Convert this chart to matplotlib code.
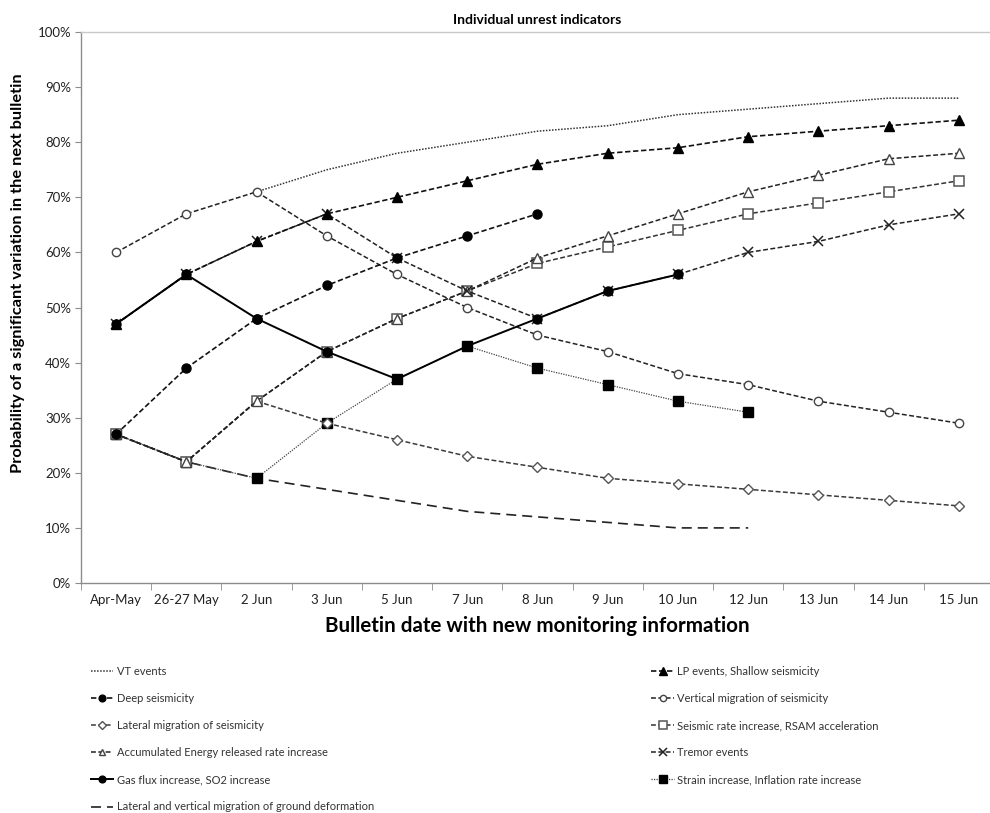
#!/usr/bin/python
# -*- coding: utf-8 -*-

import numpy as np
import matplotlib
matplotlib.use('Agg')
import matplotlib.pyplot as plt
from matplotlib.ticker import FixedLocator, PercentFormatter

###############################################################################
# Data (percent)
###############################################################################
nan = np.nan
dates = ['Apr-May', '26-27 May', '2 Jun', '3 Jun', '5 Jun', '7 Jun', '8 Jun',
         '9 Jun', '10 Jun', '12 Jun', '13 Jun', '14 Jun', '15 Jun']

vt_events = [nan, nan, 71, 75, 78, 80, 82, 83, 85, 86, 87, 88, 88]
lp_events = [47, 56, 62, 67, 70, 73, 76, 78, 79, 81, 82, 83, 84]
deep_seis = [27, 39, 48, 54, 59, 63, 67, nan, nan, nan, nan, nan, nan]
vert_migr = [60, 67, 71, 63, 56, 50, 45, 42, 38, 36, 33, 31, 29]
lat_migr = [27, 22, 33, 29, 26, 23, 21, 19, 18, 17, 16, 15, 14]
seis_rate = [27, 22, 33, 42, 48, 53, 58, 61, 64, 67, 69, 71, 73]
acc_energy = [27, 22, 33, 42, 48, 53, 59, 63, 67, 71, 74, 77, 78]
tremor = [47, 56, 62, 67, 59, 53, 48, 53, 56, 60, 62, 65, 67]
gas_flux = [47, 56, 48, 42, 37, 43, 48, 53, 56, nan, nan, nan, nan]
strain = [27, 22, 19, 29, 37, 43, 39, 36, 33, 31, nan, nan, nan]
ground_def = [27, 22, 19, 17, 15, 13, 12, 11, 10, 10, nan, nan, nan]

labels = {
    'vt': 'VT events',
    'lp': 'LP events, Shallow seismicity',
    'deep': 'Deep seismicity',
    'vert': 'Vertical migration of seismicity',
    'lat': 'Lateral migration of seismicity',
    'rate': 'Seismic rate increase, RSAM acceleration',
    'energy': 'Accumulated Energy released rate increase',
    'tremor': 'Tremor events',
    'gas': 'Gas flux increase, SO2 increase',
    'strain': 'Strain increase, Inflation rate increase',
    'ground': 'Lateral and vertical migration of ground deformation',
}

###############################################################################
# Style
###############################################################################
plt.rcParams['font.family'] = ['Lato', 'DejaVu Sans']
DASH = (0, (3.2, 1.6))
AXC = '#8c8c8c'

fig = plt.figure(figsize=(9.9, 8.13), dpi=100)
ax = fig.add_axes([0.0818, 0.2829, 0.9222, 0.6777])
x = np.arange(len(dates))

series = [
    ('ground', ground_def, dict(color='#222222', ls=(0, (6, 3.6)), lw=1.2,
                                marker='None')),
    ('vt', vt_events, dict(color='#333333', ls=(0, (1, 1)), lw=1.1,
                           marker='None')),
    ('strain', strain, dict(color='#444444', ls=(0, (1, 1)), lw=0.9,
                            marker='s', ms=7, mfc='black', mec='black')),
    ('lat', lat_migr, dict(color='#3a3a3a', ls=DASH, lw=1.1, marker='D',
                           ms=5.5, mfc='white', mec='#555555', mew=1.0)),
    ('vert', vert_migr, dict(color='#222222', ls=DASH, lw=1.1, marker='o',
                             ms=6, mfc='white', mec='#444444', mew=1.0)),
    ('rate', seis_rate, dict(color='#333333', ls=DASH, lw=1.1, marker='s',
                             ms=7.5, mfc='white', mec='#555555', mew=1.1)),
    ('energy', acc_energy, dict(color='#222222', ls=DASH, lw=1.1, marker='^',
                                ms=6.5, mfc='white', mec='#444444', mew=1.0)),
    ('tremor', tremor, dict(color='#222222', ls=DASH, lw=1.1, marker='x',
                            ms=7, mec='#222222', mew=1.1)),
    ('deep', deep_seis, dict(color='#111111', ls=DASH, lw=1.2, marker='o',
                             ms=6.5, mfc='black', mec='black')),
    ('lp', lp_events, dict(color='#111111', ls=DASH, lw=1.2, marker='^',
                           ms=7, mfc='black', mec='black')),
    ('gas', gas_flux, dict(color='black', ls='-', lw=1.4, marker='o',
                           ms=6.5, mfc='black', mec='black')),
]

handles = {}
for (key, vals, kw) in series:
    (line, ) = ax.plot(x, vals, label=labels[key], **kw)
    handles[key] = line

###############################################################################
# Axes
###############################################################################
ax.set_xlim(-0.5, len(dates) - 0.5)
ax.set_ylim(0, 100)
ax.set_xticks(x)
ax.set_xticklabels(dates, fontsize=9.5, color='#222222')
ax.xaxis.set_minor_locator(FixedLocator(np.arange(-0.5, len(dates), 1)))
ax.tick_params(axis='x', which='major', length=0, pad=8)
ax.tick_params(axis='x', which='minor', length=5, color=AXC, direction='out')
ax.set_yticks(np.arange(0, 101, 10))
ax.yaxis.set_major_formatter(PercentFormatter(decimals=0))
ax.tick_params(axis='y', length=4, color=AXC, labelsize=9.5,
               labelcolor='#222222', pad=3)
for sp in ax.spines.values():
    sp.set_color(AXC)
    sp.set_linewidth(1.0)
ax.spines['right'].set_color('#cccccc')
ax.spines['top'].set_color('#c8c8c8')

ax.set_title('Individual unrest indicators', fontsize=10,
             fontweight='bold', pad=6)
ax.set_ylabel('Probability of a significant variation in the next bulletin',
              fontsize=11.8, fontweight='bold')
ax.yaxis.set_label_coords(-0.061, 0.563)
ax.set_xlabel('Bulletin date with new monitoring information',
              fontsize=14.8, fontweight='bold', labelpad=7)

###############################################################################
# Legend (two columns below the chart)
###############################################################################
left_keys = ['vt', 'deep', 'lat', 'energy', 'gas', 'ground']
right_keys = ['lp', 'vert', 'rate', 'tremor', 'strain']
leg_kw = dict(frameon=False, fontsize=8, handlelength=2.0, handletextpad=0.3,
              labelspacing=1.45, loc='upper left', borderaxespad=0,
              borderpad=0, markerscale=0.75)
for (keys, xpos) in [(left_keys, 0.092), (right_keys, 0.658)]:
    leg = fig.legend([handles[k] for k in keys], [labels[k] for k in keys],
                     bbox_to_anchor=(xpos, 0.181), **leg_kw)
    for t in leg.get_texts():
        t.set_color('#333333')

fig.savefig('out.png', dpi=100)
